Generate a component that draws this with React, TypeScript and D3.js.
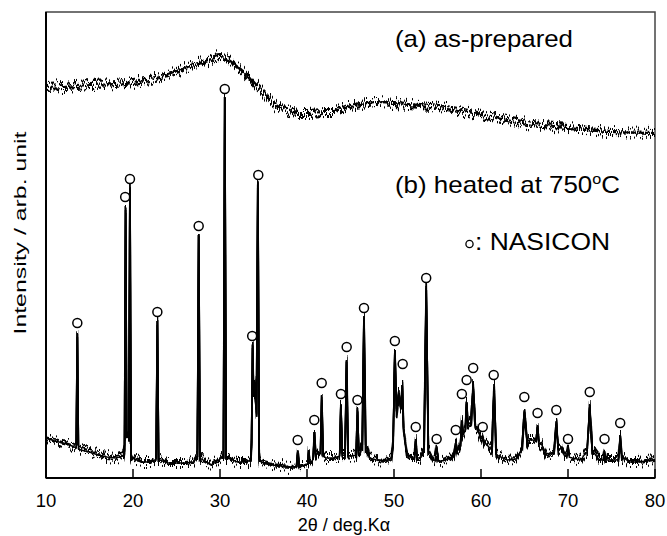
import * as d3 from "d3";

// (a) as-prepared: broad amorphous halo, [2θ, intensity]
const amorphousTheta = [10, 12, 15, 18, 20, 22, 24, 25, 26, 27, 28, 29, 30, 31, 32, 33, 34, 35, 36, 37, 38, 39, 40, 42, 43, 45, 47, 48, 50, 53, 56, 58, 60, 63, 66, 70, 75, 80];
const amorphousIntensity = [390, 391, 393, 394, 396, 399, 403, 406, 410, 413, 415, 418, 420, 418, 411, 403, 393, 385, 376, 370, 367, 365, 365, 366, 366, 372, 375, 376, 375, 373, 370, 367, 363, 358, 353, 350, 346, 345];

// (b) heated at 750 °C: background under the crystalline pattern
const bgTheta = [10, 11, 12, 13, 13.5, 14, 15, 16, 17, 18, 18.9, 19.4, 19.85, 21, 22, 22.5, 23.1, 24, 25, 26, 27, 27.25, 27.85, 29, 30.2, 30.9, 32, 33, 33.55, 33.95, 34.55, 35, 36, 37, 38, 39.5, 40.5, 41.3, 42.2, 43, 44.2, 45.2, 46.1, 46.25, 46.9, 47.2, 48, 49, 49.7, 50.55, 51.5, 52, 53, 53.35, 54.05, 54.5, 55.5, 56.5, 57.5, 58, 58.7, 59.5, 60, 60.5, 61, 62, 63, 64, 64.7, 65.5, 66, 67, 67.5, 68.2, 69.2, 69.6, 70.5, 71.5, 72, 73, 73.6, 74.6, 75.5, 76.5, 77, 78, 79, 80];
const bgIntensity = [40, 37, 35, 32, 30, 28, 26, 23, 21, 20, 22, 46, 20, 16, 16, 18, 18, 15, 15, 15, 16, 20, 19, 13, 20, 20, 16, 16, 18, 98, 17, 15, 13, 12, 11, 12, 16, 26, 20, 20, 23, 22, 24, 30, 30, 20, 18, 17, 20, 85, 23, 20, 20, 26, 26, 18, 17, 20, 30, 45, 55, 50, 40, 35, 30, 22, 18, 19, 28, 38, 38, 33, 24, 25, 30, 22, 20, 18, 25, 25, 18, 18, 18, 20, 16, 16, 17, 18];

// (b) reflections: position, top intensity, half width at the foot
const peakPos = [13.6, 19.15, 19.65, 22.8, 27.55, 30.55, 33.75, 34.35, 38.95, 40.2, 40.85, 41.7, 43.9, 44.55, 45.8, 46.55, 50.1, 50.95, 52.5, 53.7, 54.9, 57.1, 57.8, 58.35, 59.1, 60.2, 61.5, 65.0, 66.5, 68.65, 70.0, 72.5, 74.2, 76.0];
const peakTop = [145, 271, 290, 157, 243, 380, 133, 295, 28, 28, 46, 81, 73, 118, 68, 160, 128, 93, 38, 190, 30, 36, 58, 76, 93, 41, 91, 68, 53, 56, 28, 73, 26, 43];
const peakHalfWidth = [0.12, 0.12, 0.12, 0.14, 0.15, 0.15, 0.12, 0.15, 0.15, 0.1, 0.15, 0.15, 0.15, 0.18, 0.15, 0.2, 0.2, 0.15, 0.15, 0.25, 0.2, 0.2, 0.15, 0.15, 0.25, 0.15, 0.25, 0.3, 0.15, 0.25, 0.15, 0.3, 0.15, 0.2];

// NASICON markers (open circles)
const markerTheta = [13.6, 19.1, 19.65, 22.8, 27.55, 30.55, 33.7, 34.4, 38.93, 40.84, 41.69, 43.9, 44.56, 45.8, 46.55, 50.1, 51.0, 52.5, 53.7, 54.9, 57.1, 57.8, 58.35, 59.1, 60.2, 61.46, 64.98, 66.5, 68.66, 70.0, 72.5, 74.2, 76.0];
const markerIntensity = [155, 281, 299, 166, 252, 389, 142, 303, 38, 58, 95, 84, 131, 78, 170, 137, 114, 51, 200, 39, 48, 84, 98, 110, 51, 103, 81, 65, 68, 39, 86, 39, 55];

const xTicks = [10, 20, 30, 40, 50, 60, 70, 80];

const width = 667;
const height = 536;
const margin = { left: 46, right: 12, top: 12, bottom: 58 };
const font = "'Liberation Sans', Arial, sans-serif";

const bgAt = (t: number) => {
  const i = Math.min(Math.max(d3.bisectRight(bgTheta, t), 1), bgTheta.length - 1);
  const t0 = bgTheta[i - 1], t1 = bgTheta[i];
  const f = (t - t0) / (t1 - t0);
  return bgIntensity[i - 1] + f * (bgIntensity[i] - bgIntensity[i - 1]);
};

const heatedPoints = () => {
  const pts: [number, number][] = [];
  bgTheta.forEach((t, i) => {
    const inside = peakPos.some((p, j) => Math.abs(t - p) < peakHalfWidth[j]);
    if (!inside) pts.push([t, bgIntensity[i]]);
  });
  peakPos.forEach((p, j) => {
    const w = peakHalfWidth[j];
    pts.push([p - w, bgAt(p - w)], [p, peakTop[j]], [p + w, bgAt(p + w)]);
  });
  return pts.sort((a, b) => a[0] - b[0]);
};

export default function App() {
  const x = d3.scaleLinear().domain([10, 80]).range([margin.left, width - margin.right]);
  const y = d3.scaleLinear().domain([0, 466]).range([height - margin.bottom, margin.top]);
  const x0 = x.range()[0], x1 = x.range()[1];
  const y0 = y.range()[0], y1 = y.range()[1];

  const amorphousPath =
    d3
      .line<number>()
      .x((d) => x(d))
      .y((d, i) => y(amorphousIntensity[i]))
      .curve(d3.curveMonotoneX)(amorphousTheta) ?? "";
  const heatedPath =
    d3
      .line<[number, number]>()
      .x((d) => x(d[0]))
      .y((d) => y(d[1]))(heatedPoints()) ?? "";

  // a few jitter passes so the trace reads as a dense noisy band
  const seeds = [4, 11, 23];

  return (
    <svg width={width} height={height} style={{ position: "absolute", left: 0, top: 0, background: "#fff" }}>
      <defs>
        {seeds.map((s) => (
          <filter key={s} id={`jitter${s}`} filterUnits="userSpaceOnUse" x={0} y={0} width={width} height={height} colorInterpolationFilters="sRGB">
            <feTurbulence type="fractalNoise" baseFrequency="0.5 0.03" numOctaves={1} seed={s} result="t" />
            <feColorMatrix in="t" type="matrix" values="0 0 0 0 0.5  0 1.6 0 0 -0.3  0 0 0 0 0  0 0 0 0 1" result="m" />
            <feDisplacementMap in="SourceGraphic" in2="m" scale={16} xChannelSelector="R" yChannelSelector="G" />
          </filter>
        ))}
      </defs>

      {/* frame */}
      <rect x={x0} y={y1} width={x1 - x0} height={y0 - y1} fill="none" stroke="#444" strokeWidth={1.5} />
      <line x1={x0} x2={x0} y1={y1} y2={y0} stroke="#000" strokeWidth={2} />
      <line x1={x0} x2={x1} y1={y0} y2={y0} stroke="#000" strokeWidth={2} />
      {xTicks.map((t) => (
        <g key={t}>
          <line x1={x(t)} x2={x(t)} y1={y0} y2={y0 - 9} stroke="#000" strokeWidth={1.5} />
          <text x={x(t)} y={507} textAnchor="middle" fontFamily={font} fontSize={18.5}>
            {t}
          </text>
        </g>
      ))}

      {/* patterns */}
      <path d={heatedPath} fill="none" stroke="#000" strokeWidth={1.4} />
      {seeds.map((s) => (
        <g key={s} filter={`url(#jitter${s})`}>
          <path d={amorphousPath} fill="none" stroke="#000" strokeWidth={2.2} />
          <path d={heatedPath} fill="none" stroke="#000" strokeWidth={1.8} />
        </g>
      ))}

      {markerTheta.map((t, i) => (
        <circle key={i} cx={x(t)} cy={y(markerIntensity[i])} r={4.5} fill="#fff" stroke="#000" strokeWidth={1.5} />
      ))}

      {/* labels */}
      <text x={395} y={47} fontFamily={font} fontSize={24} textLength={178} lengthAdjust="spacingAndGlyphs">
        (a) as-prepared
      </text>
      <text x={395} y={193} fontFamily={font} fontSize={24} textLength={225} lengthAdjust="spacingAndGlyphs">
        (b) heated at 750
        <tspan fontSize={15} dy={-9}>o</tspan>
        <tspan dy={9}>C</tspan>
      </text>
      <circle cx={469.5} cy={244} r={3.6} fill="none" stroke="#000" strokeWidth={1.3} />
      <text x={475} y={250} fontFamily={font} fontSize={24} textLength={135} lengthAdjust="spacingAndGlyphs">
        : NASICON
      </text>

      <text
        transform={`translate(26, 233) rotate(-90)`}
        textAnchor="middle"
        fontFamily={font}
        fontSize={17}
        textLength={203}
        lengthAdjust="spacingAndGlyphs"
      >
        Intensity / arb. unit
      </text>
      <text x={344} y={531} textAnchor="middle" fontFamily={font} fontSize={18}>
        2θ / deg.Kα
      </text>
    </svg>
  );
}
